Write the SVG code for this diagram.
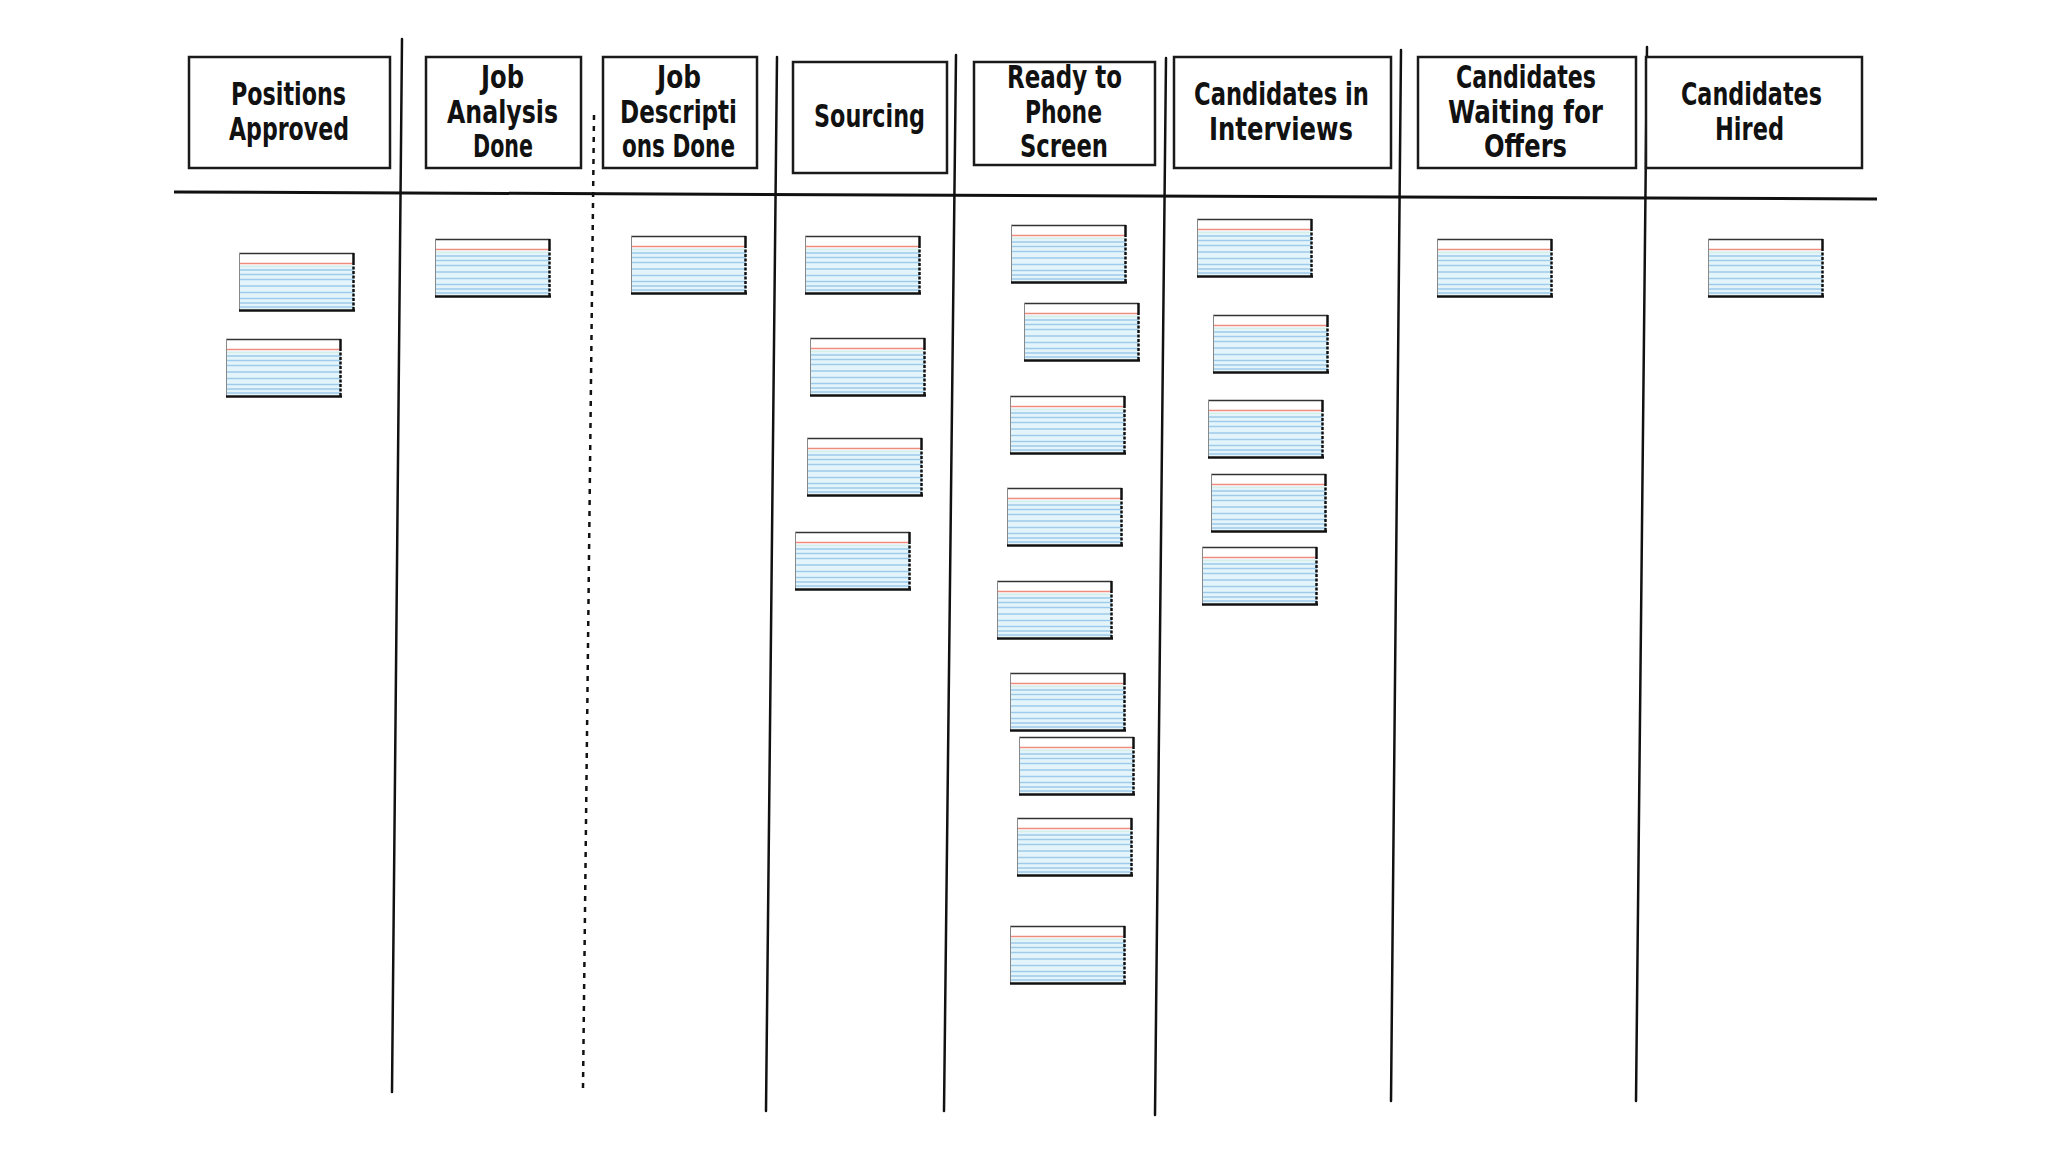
<svg xmlns="http://www.w3.org/2000/svg" xmlns:xlink="http://www.w3.org/1999/xlink" width="2048" height="1152" viewBox="0 0 2048 1152">
<style>
.hbox{fill:#fff;stroke:#1a1a1a;stroke-width:2.5}
.ht{font-family:"DejaVu Sans Condensed","DejaVu Sans",sans-serif;font-weight:bold;font-size:32px;fill:#111}
.vl{stroke:#111;stroke-width:2.5;fill:none;stroke-linecap:round}
.dl{stroke:#111;stroke-width:2.5;fill:none;stroke-dasharray:5 6}
.hl{stroke:#111;stroke-width:3;fill:none}
</style>
<defs>
<g id="card">
<rect x="0" y="0" width="115" height="58" fill="#fff"/>
<rect x="0" y="12" width="115" height="44" fill="#e4f4fb"/>
<line x1="0" y1="10.5" x2="115" y2="10.5" stroke="#ef8c80" stroke-width="1.6"/>
<line x1="0" y1="13.5" x2="115" y2="13.5" stroke="#d6efe6" stroke-width="1.2"/>
<g stroke="#9ecbea" stroke-width="1.6">
<line x1="0" y1="17" x2="115" y2="17"/>
<line x1="0" y1="21.5" x2="115" y2="21.5"/>
<line x1="0" y1="26.5" x2="115" y2="26.5"/>
<line x1="0" y1="33" x2="115" y2="33"/>
<line x1="0" y1="39.5" x2="115" y2="39.5"/>
<line x1="0" y1="45.5" x2="115" y2="45.5"/>
<line x1="0" y1="50" x2="115" y2="50"/>
<line x1="0" y1="54" x2="115" y2="54"/>
</g>
<line x1="0" y1="0.5" x2="115" y2="0.5" stroke="#333" stroke-width="1.5"/>
<line x1="0.5" y1="0" x2="0.5" y2="58" stroke="#888" stroke-width="1"/>
<line x1="0" y1="57.5" x2="116" y2="57.5" stroke="#111" stroke-width="2.5"/>
<line x1="114.5" y1="0" x2="114.5" y2="9" stroke="#111" stroke-width="2.5"/>
<line x1="114.5" y1="9" x2="114.5" y2="58" stroke="#111" stroke-width="2.5" stroke-dasharray="3 1.5"/>
</g>
</defs>
<rect x="0" y="0" width="2048" height="1152" fill="#fff"/>

<g id="connectors">
<line class="hl" x1="174" y1="192" x2="1877" y2="199"/>
<line class="vl" x1="402" y1="39" x2="392" y2="1092"/>
<line class="dl" x1="594" y1="115" x2="583" y2="1088"/>
<line class="vl" x1="777" y1="57" x2="766" y2="1111"/>
<line class="vl" x1="956" y1="55" x2="944" y2="1111"/>
<line class="vl" x1="1166" y1="58" x2="1155" y2="1115"/>
<line class="vl" x1="1401" y1="50" x2="1391" y2="1101"/>
<line class="vl" x1="1647" y1="47" x2="1636" y2="1101"/>
</g>

<g id="col-positions-approved">
<rect class="hbox" x="189" y="57" width="201" height="111"/>
<text class="ht" x="231" y="105" textLength="115" lengthAdjust="spacingAndGlyphs">Positions</text>
<text class="ht" x="229" y="140" textLength="120" lengthAdjust="spacingAndGlyphs">Approved</text>
</g>
<g id="col-job-analysis-done">
<rect class="hbox" x="426" y="57" width="155" height="111"/>
<text class="ht" x="481" y="88" textLength="43" lengthAdjust="spacingAndGlyphs">Job</text>
<text class="ht" x="447" y="123" textLength="111" lengthAdjust="spacingAndGlyphs">Analysis</text>
<text class="ht" x="473" y="157" textLength="60" lengthAdjust="spacingAndGlyphs">Done</text>
</g>
<g id="col-job-descriptions-done">
<rect class="hbox" x="603" y="57" width="154" height="111"/>
<text class="ht" x="657" y="88" textLength="44" lengthAdjust="spacingAndGlyphs">Job</text>
<text class="ht" x="620" y="123" textLength="117" lengthAdjust="spacingAndGlyphs">Descripti</text>
<text class="ht" x="622" y="157" textLength="113" lengthAdjust="spacingAndGlyphs">ons Done</text>
</g>
<g id="col-sourcing">
<rect class="hbox" x="793" y="62" width="154" height="111"/>
<text class="ht" x="814" y="127" textLength="111" lengthAdjust="spacingAndGlyphs">Sourcing</text>
</g>
<g id="col-ready-to-phone-screen">
<rect class="hbox" x="974" y="62" width="181" height="103"/>
<text class="ht" x="1007" y="88" textLength="115" lengthAdjust="spacingAndGlyphs">Ready to</text>
<text class="ht" x="1025" y="123" textLength="77" lengthAdjust="spacingAndGlyphs">Phone</text>
<text class="ht" x="1020" y="157" textLength="88" lengthAdjust="spacingAndGlyphs">Screen</text>
</g>
<g id="col-candidates-in-interviews">
<rect class="hbox" x="1174" y="57" width="217" height="111"/>
<text class="ht" x="1194" y="105" textLength="175" lengthAdjust="spacingAndGlyphs">Candidates in</text>
<text class="ht" x="1209" y="140" textLength="144" lengthAdjust="spacingAndGlyphs">Interviews</text>
</g>
<g id="col-candidates-waiting-for-offers">
<rect class="hbox" x="1418" y="57" width="218" height="111"/>
<text class="ht" x="1456" y="88" textLength="140" lengthAdjust="spacingAndGlyphs">Candidates</text>
<text class="ht" x="1448" y="123" textLength="155" lengthAdjust="spacingAndGlyphs">Waiting for</text>
<text class="ht" x="1484" y="157" textLength="83" lengthAdjust="spacingAndGlyphs">Offers</text>
</g>
<g id="col-candidates-hired">
<rect class="hbox" x="1646" y="57" width="216" height="111"/>
<text class="ht" x="1681" y="105" textLength="141" lengthAdjust="spacingAndGlyphs">Candidates</text>
<text class="ht" x="1715" y="140" textLength="69" lengthAdjust="spacingAndGlyphs">Hired</text>
</g>

<g id="cards">
<use xlink:href="#card" href="#card" x="239" y="253"/>
<use xlink:href="#card" href="#card" x="226" y="339"/>
<use xlink:href="#card" href="#card" x="435" y="239"/>
<use xlink:href="#card" href="#card" x="631" y="236"/>
<use xlink:href="#card" href="#card" x="805" y="236"/>
<use xlink:href="#card" href="#card" x="810" y="338"/>
<use xlink:href="#card" href="#card" x="807" y="438"/>
<use xlink:href="#card" href="#card" x="795" y="532"/>
<use xlink:href="#card" href="#card" x="1011" y="225"/>
<use xlink:href="#card" href="#card" x="1024" y="303"/>
<use xlink:href="#card" href="#card" x="1010" y="396"/>
<use xlink:href="#card" href="#card" x="1007" y="488"/>
<use xlink:href="#card" href="#card" x="997" y="581"/>
<use xlink:href="#card" href="#card" x="1010" y="673"/>
<use xlink:href="#card" href="#card" x="1019" y="737"/>
<use xlink:href="#card" href="#card" x="1017" y="818"/>
<use xlink:href="#card" href="#card" x="1010" y="926"/>
<use xlink:href="#card" href="#card" x="1197" y="219"/>
<use xlink:href="#card" href="#card" x="1213" y="315"/>
<use xlink:href="#card" href="#card" x="1208" y="400"/>
<use xlink:href="#card" href="#card" x="1211" y="474"/>
<use xlink:href="#card" href="#card" x="1202" y="547"/>
<use xlink:href="#card" href="#card" x="1437" y="239"/>
<use xlink:href="#card" href="#card" x="1708" y="239"/>
</g>
</svg>
